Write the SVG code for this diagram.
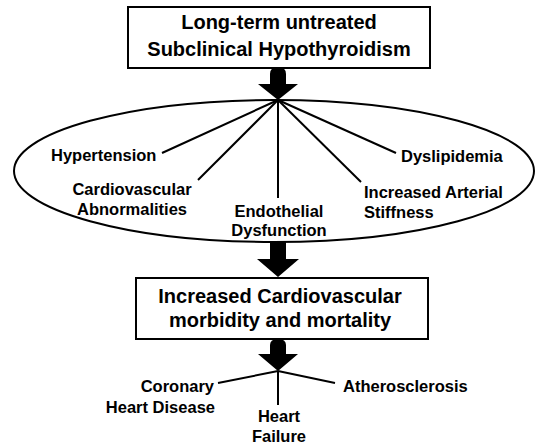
<svg xmlns="http://www.w3.org/2000/svg" width="536" height="444" viewBox="0 0 536 444">
<style>
.box{fill:#fff;stroke:#000;stroke-width:2}
.ell{fill:none;stroke:#000;stroke-width:2}
.ln{stroke:#000;stroke-width:2;fill:none}
.arr{fill:#000;stroke:none}
.t{font-family:"Liberation Sans",Arial,sans-serif;font-weight:bold;fill:#000}
.h{font-size:20px;text-anchor:middle}
.l{font-size:16.5px}
.m{text-anchor:middle}
.e{text-anchor:end}
</style>
<rect width="536" height="444" fill="#fff"/>
<g id="top-box">
<rect class="box" x="128" y="7" width="302" height="61"/>
<text class="t h" x="279" y="29">Long-term untreated</text>
<text class="t h" x="279" y="56">Subclinical Hypothyroidism</text>
</g>
<g id="effects">
<ellipse class="ell" cx="274" cy="171" rx="260" ry="71"/>
<text class="t l" x="51" y="161">Hypertension</text>
<text class="t l m" x="132" y="195">Cardiovascular</text>
<text class="t l m" x="132" y="215">Abnormalities</text>
<text class="t l m" x="279" y="217">Endothelial</text>
<text class="t l m" x="279" y="236">Dysfunction</text>
<text class="t l" x="364" y="198">Increased Arterial</text>
<text class="t l" x="364" y="218">Stiffness</text>
<text class="t l" x="401" y="162">Dyslipidemia</text>
</g>
<g id="middle-box">
<rect class="box" x="136" y="278" width="292" height="61"/>
<text class="t h" x="280" y="303">Increased Cardiovascular</text>
<text class="t h" x="280" y="327">morbidity and mortality</text>
</g>
<g id="outcomes">
<text class="t l e" x="214" y="392">Coronary</text>
<text class="t l e" x="215" y="413">Heart Disease</text>
<text class="t l m" x="279" y="422">Heart</text>
<text class="t l m" x="279" y="442">Failure</text>
<text class="t l" x="343" y="392">Atherosclerosis</text>
</g>
<g id="connectors">
<path class="arr" d="M270,84 L270,74 Q270,67 278,67 Q286,67 286,74 L286,84 L298,84 L278,100 L258,84 Z"/>
<path class="arr" d="M270,259 L270,242 L286,242 L286,259 L299,259 L278,277 L257,259 Z"/>
<path class="arr" d="M270,354 L270,345 Q270,339 278,339 Q286,339 286,345 L286,354 L298,354 L278,371 L258,354 Z"/>
<line class="ln" x1="278" y1="100" x2="162" y2="153"/>
<line class="ln" x1="278" y1="100" x2="198" y2="180"/>
<line class="ln" x1="278" y1="100" x2="278" y2="198"/>
<line class="ln" x1="278" y1="100" x2="361" y2="182"/>
<line class="ln" x1="278" y1="100" x2="396" y2="153"/>
<line class="ln" x1="278" y1="371" x2="218" y2="383"/>
<line class="ln" x1="278" y1="371" x2="278" y2="405"/>
<line class="ln" x1="278" y1="371" x2="335" y2="383"/>
</g>
</svg>
